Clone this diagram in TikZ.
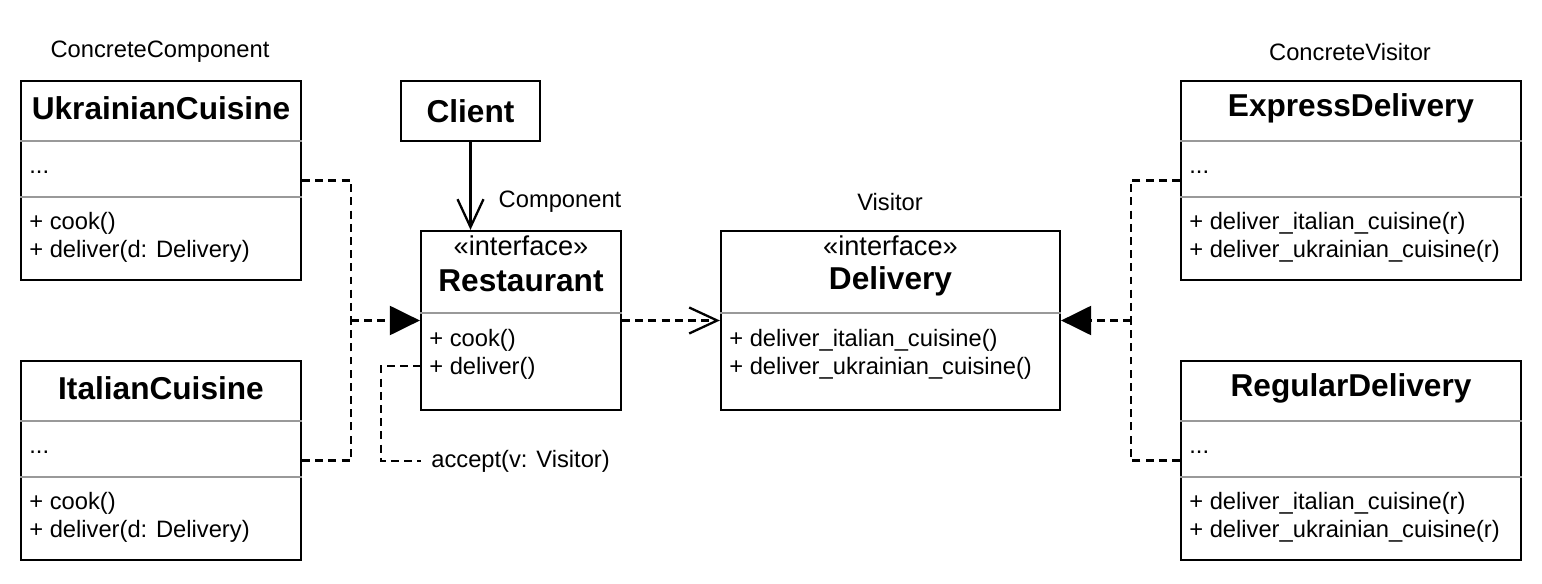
\documentclass[tikz,border=0pt]{standalone}
\usepackage{fontspec}
\setmainfont{Liberation Sans}
\usetikzlibrary{arrows.meta}

\tikzset{
  box/.style={draw, line width=1.3pt, inner sep=0pt},
  sep/.style={draw=black!40, line width=1.2pt},
  dep/.style={line width=1.3pt, dash pattern=on 4.5pt off 3pt},
  title/.style={font=\fontsize{18}{21}\selectfont\bfseries, inner sep=0pt},
  txt/.style={font=\fontsize{13.5}{16}\selectfont, inner sep=0pt, align=left},
  stereo/.style={font=\fontsize{15.5}{18}\selectfont, inner sep=0pt},
  realize/.style={-{Triangle[length=0.6cm,width=0.58cm]}},
  uses/.style={-{Straight Barb[length=0.56cm,width=0.52cm,line width=1.3pt]}}
}

\begin{document}
\begin{tikzpicture}[x=0.02cm,y=-0.02cm]
  \useasboundingbox (0,0) rectangle (1542,584);

  % class boxes
  \node[box, minimum width=5.6cm, minimum height=3.98cm] (uk) at (161,180.5) {};
  \node[box, minimum width=5.6cm, minimum height=3.98cm] (it) at (161,460.5) {};
  \node[box, minimum width=2.78cm, minimum height=1.2cm, title] (client) at (470.5,111) {Client};
  \node[box, minimum width=4cm, minimum height=3.58cm] (rest) at (521,320.5) {};
  \node[box, minimum width=6.78cm, minimum height=3.58cm] (del) at (890.5,320.5) {};
  \node[box, minimum width=6.8cm, minimum height=3.98cm] (ex) at (1351,180.5) {};
  \node[box, minimum width=6.8cm, minimum height=3.98cm] (reg) at (1351,460.5) {};

  % separators
  \foreach \b/\ya/\yb in {uk/141/197, it/421/477, ex/141/197, reg/421/477} {
    \draw[sep] (\b.west |- 0,\ya) -- (\b.east |- 0,\ya);
    \draw[sep] (\b.west |- 0,\yb) -- (\b.east |- 0,\yb);
  }
  \draw[sep] (rest.west |- 0,313) -- (rest.east |- 0,313);
  \draw[sep] (del.west |- 0,313) -- (del.east |- 0,313);

  % texts
  \node[title] (ukname) at (161,108) {UkrainianCuisine};
  \node[txt, anchor=west] (ukattr) at (29,172) {...};
  \node[txt, anchor=west] (ukops) at (29,237) {+ cook()\\+ deliver(d: Delivery)};

  \node[title] (itname) at (161,388) {ItalianCuisine};
  \node[txt, anchor=west] (itattr) at (29,452) {...};
  \node[txt, anchor=west] (itops) at (29,517) {+ cook()\\+ deliver(d: Delivery)};

  \node[stereo] (reststereo) at (521,246) {«interface»};
  \node[title] (restname) at (521,281) {Restaurant};
  \node[txt, anchor=west] (restops) at (429,354) {+ cook()\\+ deliver()};

  \node[stereo] (delstereo) at (890.5,246) {«interface»};
  \node[title] (delname) at (890.5,281) {Delivery};
  \node[txt, anchor=west] (delops) at (729,354) {+ deliver\_italian\_cuisine()\\+ deliver\_ukrainian\_cuisine()};

  \node[title] (exname) at (1351,108) {ExpressDelivery};
  \node[txt, anchor=west] (exattr) at (1189,172) {...};
  \node[txt, anchor=west] (exops) at (1189,237) {+ deliver\_italian\_cuisine(r)\\+ deliver\_ukrainian\_cuisine(r)};

  \node[title] (regname) at (1351,388) {RegularDelivery};
  \node[txt, anchor=west] (regattr) at (1189,452) {...};
  \node[txt, anchor=west] (regops) at (1189,517) {+ deliver\_italian\_cuisine(r)\\+ deliver\_ukrainian\_cuisine(r)};

  % role labels
  \node[txt] (lblcc) at (160,52) {ConcreteComponent};
  \node[txt] (lblcv) at (1350,52) {ConcreteVisitor};
  \node[txt] (lblcomp) at (560,202) {Component};
  \node[txt] (lblvis) at (890,202) {Visitor};
  \node[txt, anchor=west] (acc) at (431,461) {accept(v: Visitor)};

  % connectors
  \coordinate (jl) at (351,320.5);
  \coordinate (jr) at (1131,320.5);
  \coordinate (dl) at (421,366);
  \draw[dep] (uk.east) -| (jl);
  \draw[dep] (it.east) -| (jl);
  \draw[dep, realize] (jl) -- (rest.west);
  \draw[dep] (ex.west) -| (jr);
  \draw[dep] (reg.west) -| (jr);
  \draw[dep, realize] (jr) -- (del.east);
  \draw[dep, uses] (rest.east) -- (del.west);
  \draw[line width=1.3pt, uses] (client.south) -- (client.south |- rest.north);
  \draw[dep] (dl) -| (381,461) -- ([xshift=-0.2cm]acc.west);

\end{tikzpicture}
\end{document}
